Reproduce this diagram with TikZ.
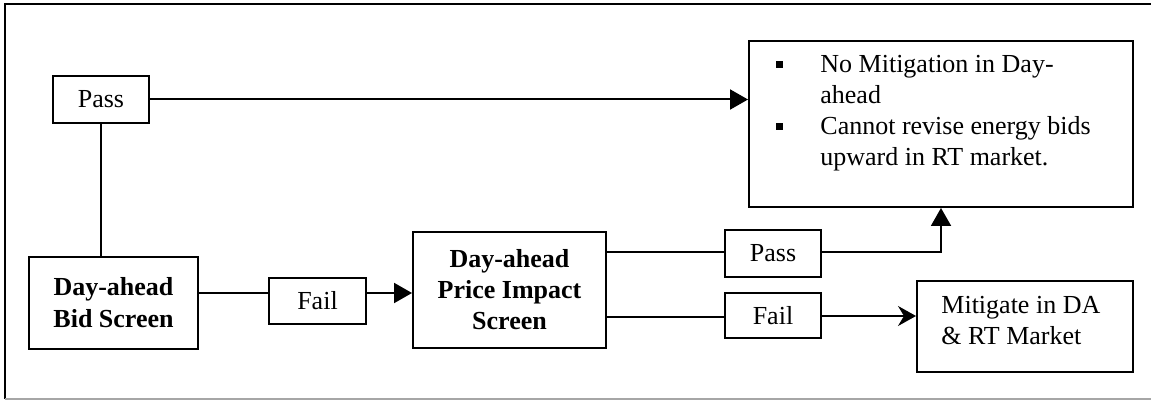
\documentclass[tikz,border=0pt]{standalone}
\usepackage{fontspec}
\setmainfont{Liberation Serif}
\usetikzlibrary{arrows.meta}
\begin{document}
\begin{tikzpicture}[x=0.5pt,y=-0.5pt,
  box/.style={draw,line width=1pt,inner sep=0pt},
  conn/.style={line width=1pt},
  tri/.style={conn,-{Triangle[length=9pt,width=10pt]}},
  stl/.style={conn,-{Stealth[length=9pt,width=10pt,inset=3pt]}},
  txt/.style={anchor=base west,inner sep=0pt},
  every node/.style={font=\fontsize{13}{15.5}\selectfont}]
\useasboundingbox (0,0) rectangle (1151,400);
% frame
\draw[line width=1.2pt] (5,399) -- (5,4) -- (1151,4);
\draw[line width=1pt,gray!70] (5,399) -- (1151,399);
% nodes
\node[box,minimum width=48pt,minimum height=23.5pt] (pass1) at (101,99.5) {Pass};
\node[box,minimum width=84.5pt,minimum height=46pt,align=center,font=\fontsize{13}{16}\selectfont\bfseries] (bid) at (113.5,303) {Day-ahead\\Bid Screen};
\node[box,minimum width=48.5pt,minimum height=23pt] (fail1) at (317.5,301) {Fail};
\node[box,minimum width=96.5pt,minimum height=58pt,align=center,font=\fontsize{13}{15.5}\selectfont\bfseries] (pi) at (509.5,290) {Day-ahead\\Price Impact\\Screen};
\node[box,minimum width=48pt,minimum height=23.5pt] (pass2) at (773,253.5) {Pass};
\node[box,minimum width=48pt,minimum height=22.5pt] (fail2) at (773,315.5) {Fail};
\node[box,minimum width=192pt,minimum height=83pt] (top) at (941,124) {};
\node[box,minimum width=108pt,minimum height=45.5pt] (mit) at (1025,326.5) {};
% texts
\node[txt] (b1) at (776,68) {\rule{3.5pt}{3.5pt}};
\node[txt] (t1) at (820,73) {\parbox[t]{150pt}{\raggedright No Mitigation in Day-\\ahead}};
\node[txt] (b2) at (776,130) {\rule{3.5pt}{3.5pt}};
\node[txt] (t2) at (820,135) {\parbox[t]{150pt}{\raggedright Cannot revise energy bids\\upward in RT market.}};
\node[txt] (mt) at (941,314) {\parbox[t]{100pt}{\raggedright Mitigate in DA\\\& RT Market}};
% connectors
\draw[conn] (pass1.south) -- (pass1.south |- bid.north);
\draw[tri] (pass1.east) -- (top.west |- pass1.east);
\draw[conn] (bid.east |- 0,293) -- (fail1.west |- 0,293);
\draw[tri] (fail1.east |- 0,293) -- (pi.west |- 0,293);
\draw[conn] (pi.east |- 0,252) -- (pass2.west |- 0,252);
\draw[conn] (pi.east |- 0,317) -- (fail2.west |- 0,317);
\coordinate (bend) at (941,252);
\draw[tri] (pass2.east |- bend) -- (bend) -- (top.south -| bend);
\draw[stl] (fail2.east |- 0,316) -- (mit.west |- 0,316);
\end{tikzpicture}
\end{document}
